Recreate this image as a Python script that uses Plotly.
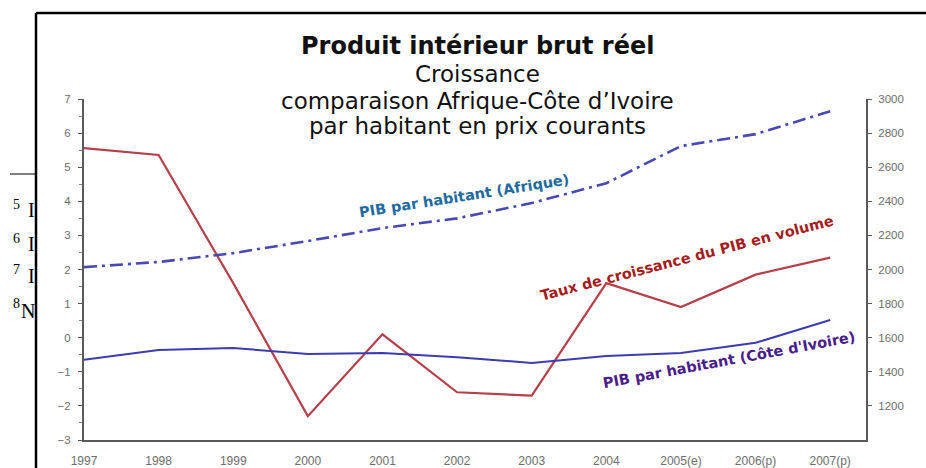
import plotly.graph_objects as go

# ---- data ----
years = ["1997", "1998", "1999", "2000", "2001", "2002", "2003", "2004", "2005(e)", "2006(p)", "2007(p)"]
croissance_pib = [5.56, 5.36, 1.6, -2.3, 0.1, -1.6, -1.7, 1.6, 0.9, 1.85, 2.35]
pib_hab_afrique = [2014, 2044, 2096, 2167, 2243, 2300, 2390, 2506, 2724, 2794, 2928]
pib_hab_ci = [1470, 1528, 1540, 1504, 1510, 1486, 1452, 1492, 1510, 1570, 1704]
left_ticks = [-3, -2, -1, 0, 1, 2, 3, 4, 5, 6, 7]
right_ticks = [1200, 1400, 1600, 1800, 2000, 2200, 2400, 2600, 2800, 3000]

W, H = 926, 468
L, R, T, B = 84, 60, 99, 28
PW, PH = W - L - R, H - T - B


def px(x):
    return (x - L) / PW


def py(y):
    return (H - B - y) / PH


xi = list(range(len(years)))

fig = go.Figure()
fig.add_trace(go.Scatter(x=xi, y=croissance_pib, mode="lines", yaxis="y",
                         line=dict(color="#b5404a", width=2.2), showlegend=False))
fig.add_trace(go.Scatter(x=xi, y=pib_hab_afrique, mode="lines", yaxis="y2",
                         line=dict(color="#4a48b4", width=2.6, dash="13px,5px,3px,5px"), showlegend=False))
fig.add_trace(go.Scatter(x=xi, y=pib_hab_ci, mode="lines", yaxis="y2",
                         line=dict(color="#3c3cb0", width=2), showlegend=False))

tickfont = dict(family="Liberation Sans", size=11.5, color="#6e6e6e")

fig.update_layout(
    width=W, height=H,
    margin=dict(l=L, r=R, t=T, b=B, pad=0),
    paper_bgcolor="white", plot_bgcolor="white",
    xaxis=dict(range=[0, 10.48], tickvals=xi, ticktext=years, showgrid=False, zeroline=False,
               showline=True, linecolor="#5a5a5a", linewidth=2, ticks="",
               tickfont=dict(family="Liberation Sans", size=12, color="#6e6e6e"),
               ticklabelstandoff=9, automargin=False),
    yaxis=dict(range=[-3, 7], tickvals=left_ticks, showgrid=False, zeroline=False,
               showline=True, linecolor="#5a5a5a", linewidth=2, ticks="outside", ticklen=4,
               tickcolor="#5a5a5a", tickfont=tickfont, ticklabelstandoff=5, automargin=False,
               minor=dict(dtick=0.5, ticks="outside", ticklen=3, tickcolor="#888")),
    yaxis2=dict(range=[1000, 3000], tickvals=right_ticks, overlaying="y", side="right",
                showgrid=False, zeroline=False, showline=True, linecolor="#5a5a5a", linewidth=2,
                ticks="outside", ticklen=4, tickcolor="#5a5a5a", tickfont=tickfont,
                ticklabelstandoff=4, automargin=False),
)

title_font = "DejaVu Sans"
titles = [
    ("<b>Produit intérieur brut réel</b>", 46, 24),
    ("Croissance", 74, 23),
    ("comparaison Afrique-Côte d’Ivoire", 101, 23),
    ("par habitant en prix courants", 126, 23),
]
for txt, yy, sz in titles:
    fig.add_annotation(text=txt, xref="paper", yref="paper", x=px(477), y=py(yy),
                       xanchor="center", yanchor="middle", showarrow=False,
                       font=dict(family=title_font, size=sz, color="#111"))

labels = [
    ("<b>PIB par habitant (Afrique)</b>", 464, 196, -9, "#1f6a9e"),
    ("<b>Taux de croissance du PIB en volume</b>", 687, 258, -14.5, "#a51c1c"),
    ("<b>PIB par habitant (Côte d'Ivoire)</b>", 729, 360, -10.5, "#4a1d8a"),
]
for txt, xx, yy, ang, col in labels:
    fig.add_annotation(text=txt, xref="paper", yref="paper", x=px(xx), y=py(yy),
                       xanchor="center", yanchor="middle", showarrow=False, textangle=ang,
                       font=dict(family="DejaVu Sans", size=14.5, color=col))

# page frame around the picture
fig.add_shape(type="line", xref="paper", yref="paper", x0=px(36), x1=px(940), y0=py(13), y1=py(13),
              line=dict(color="black", width=2.5))
fig.add_shape(type="line", xref="paper", yref="paper", x0=px(36), x1=px(36), y0=py(13), y1=py(480),
              line=dict(color="black", width=2.5))
fig.add_shape(type="line", xref="paper", yref="paper", x0=px(10), x1=px(36), y0=py(174), y1=py(174),
              line=dict(color="black", width=1))

# footnote fragments of the surrounding page
notes = [("5", "I", 204, 210), ("6", "I", 238, 244), ("7", "I", 269, 276), ("8", "N", 303, 311)]
for num, letter, ny, ly in notes:
    fig.add_annotation(text=num, xref="paper", yref="paper", x=px(16), y=py(ny), showarrow=False,
                       xanchor="center", yanchor="middle",
                       font=dict(family="Liberation Serif", size=14, color="black"))
    fig.add_annotation(text=letter, xref="paper", yref="paper", x=px(37), y=py(ly), showarrow=False,
                       xanchor="right", yanchor="middle",
                       font=dict(family="Liberation Serif", size=20, color="black"))

fig.write_html("out.html", config={"displayModeBar": False},
               post_script="document.body.style.margin='0';")
